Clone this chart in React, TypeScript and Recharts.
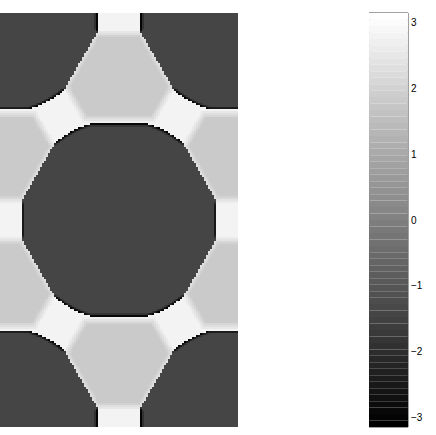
import { BarChart, Bar, Cell, XAxis, YAxis, ReferenceArea } from "recharts";

// image grid (cells) and colour bar resolution
const COLS = 119;
const ROWS = 207;
const LEVELS = 64;
const HH = Math.sqrt(3) / 2;

// dark disks sit on a hexagonal lattice (x, y in lattice constants, y down)
const diskX = [0, 1, -0.5, 0.5, 1.5, 0, 1];
const diskY = [0, 0, HH, HH, HH, 2 * HH, 2 * HH];
// flat edges of each disk: facing angle (deg) and distance from its site
const diskEdgeAngle = [0, 30, 60, 90, 120, 150, 180, 210, 240, 270, 300, 330];
const diskEdgeDist = [0.408, 0.394, 0.422, 0.403, 0.422, 0.394, 0.408, 0.394, 0.422, 0.403, 0.422, 0.394];
const diskRound = 0.42;

// light grey pockets between three disks
const pocketX = [0.5, 0, 1, 0, 1, 0.5];
const pocketY = [HH / 3, (2 * HH) / 3, (2 * HH) / 3, (4 * HH) / 3, (4 * HH) / 3, (5 * HH) / 3];
const pocketEdgeAngle = [30, 90, 150, 210, 270, 330];
const pocketToDiskV = 0.155;
const pocketToDiskD = 0.181;
const pocketToChannel = 0.202;
const pocketBlur = 0.017;

// phase levels read against the colour bar
const phaseDark = -1.4;
const phaseLight = 1.82;
const phaseWhite = 2.8;
const phaseRim = -3.1;
const rimDepth = 0.013;

const cbTicks = [-3, -2, -1, 0, 1, 2, 3];

const rad = (d: number) => (d * Math.PI) / 180;
const clamp01 = (t: number) => Math.max(0, Math.min(1, t));

const pocketApo = pocketX.map((px, i) =>
  pocketEdgeAngle.map((a) => {
    const tx = px + Math.cos(rad(a)) / Math.sqrt(3);
    const ty = pocketY[i] + Math.sin(rad(a)) / Math.sqrt(3);
    const hit = diskX.some((dx, j) => Math.hypot(dx - tx, diskY[j] - ty) < 0.05);
    if (!hit) return pocketToChannel;
    return a === 90 || a === 270 ? pocketToDiskV : pocketToDiskD;
  })
);

function phaseAt(x: number, y: number) {
  let e = Infinity;
  pocketX.forEach((px, i) => {
    let m = -Infinity;
    pocketEdgeAngle.forEach((a, k) => {
      const p = (x - px) * Math.cos(rad(a)) + (y - pocketY[i]) * Math.sin(rad(a));
      m = Math.max(m, p - pocketApo[i][k]);
    });
    e = Math.min(e, m);
  });
  const t = clamp01((e + pocketBlur) / (2 * pocketBlur));
  let val = phaseLight + t * (phaseWhite - phaseLight);

  let inside = Infinity;
  diskX.forEach((dx, j) => {
    const ox = x - dx;
    const oy = y - diskY[j];
    let m = Math.hypot(ox, oy) - diskRound;
    diskEdgeAngle.forEach((a, k) => {
      const p = ox * Math.cos(rad(a)) + oy * Math.sin(rad(a));
      m = Math.max(m, p - diskEdgeDist[k]);
    });
    inside = Math.min(inside, m);
  });
  if (inside < 0) {
    const depth = -inside;
    const tEdge = clamp01((e - depth + pocketBlur) / (2 * pocketBlur));
    const w = depth < rimDepth ? (1 - depth / rimDepth) * clamp01((tEdge - 0.6) / 0.4) : 0;
    val = phaseDark + w * (phaseRim - phaseDark);
  }
  return val;
}

const levelOf = (v: number) =>
  Math.max(0, Math.min(LEVELS - 1, Math.floor(((v + Math.PI) / (2 * Math.PI)) * LEVELS)));
const grayOf = (lvl: number) => {
  const g = Math.round((lvl * 255) / (LEVELS - 1));
  return `rgb(${g},${g},${g})`;
};

// run-length encode every image row
const rowRuns: { len: number; lvl: number }[][] = [];
for (let r = 0; r < ROWS; r++) {
  const runs: { len: number; lvl: number }[] = [];
  for (let c = 0; c < COLS; c++) {
    const lvl = levelOf(phaseAt((c + 0.5) / COLS, ((r + 0.5) / ROWS) * 2 * HH));
    const last = runs[runs.length - 1];
    if (last && last.lvl === lvl) last.len += 1;
    else runs.push({ len: 1, lvl });
  }
  rowRuns.push(runs);
}
const maxRuns = Math.max(...rowRuns.map((r) => r.length));
const imageRows = rowRuns.map((runs, r) => {
  const row: Record<string, number> = { row: r };
  for (let k = 0; k < maxRuns; k++) row[`s${k}`] = runs[k] ? runs[k].len : 0;
  return row;
});

// colour bar bands: positives stack up from 0, negatives stack down
const step = (2 * Math.PI) / LEVELS;
const bandOrder = [
  ...Array.from({ length: LEVELS / 2 }, (_, i) => LEVELS / 2 + i),
  ...Array.from({ length: LEVELS / 2 }, (_, i) => LEVELS / 2 - 1 - i),
];
const cbRow: Record<string, number | string> = { name: "cb" };
bandOrder.forEach((lvl) => {
  cbRow[`b${lvl}`] = lvl >= LEVELS / 2 ? step : -step;
});

const fmt = (v: number) => (v < 0 ? `\u2212${-v}` : `${v}`);

export default function App() {
  return (
    <div style={{ position: "absolute", left: 0, top: 0, width: 436, height: 435, background: "#fff" }}>
      <div style={{ position: "absolute", left: 0, top: 0 }}>
        <BarChart
          layout="vertical"
          width={238}
          height={435}
          data={imageRows}
          margin={{ top: 13, right: 0, bottom: 8, left: 0 }}
          barCategoryGap={0}
          barGap={0}
        >
          <XAxis type="number" domain={[0, COLS]} hide />
          <YAxis type="category" dataKey="row" hide />
          {Array.from({ length: maxRuns }, (_, k) => (
            <Bar key={k} dataKey={`s${k}`} stackId="img" isAnimationActive={false}>
              {rowRuns.map((runs, i) => (
                <Cell key={i} fill={runs[k] ? grayOf(runs[k].lvl) : "none"} />
              ))}
            </Bar>
          ))}
        </BarChart>
      </div>
      <div style={{ position: "absolute", left: 369, top: 0 }}>
        <BarChart
          width={67}
          height={435}
          data={[cbRow]}
          stackOffset="sign"
          margin={{ top: 13, right: 0, bottom: 8, left: 0 }}
          barCategoryGap={0}
          barGap={0}
        >
          <XAxis dataKey="name" hide />
          <YAxis
            yAxisId="r"
            orientation="right"
            type="number"
            domain={[-Math.PI, Math.PI]}
            allowDataOverflow
            ticks={cbTicks}
            tickFormatter={fmt}
            tickLine={false}
            axisLine={false}
            tickSize={0}
            tickMargin={3}
            width={28}
            tick={{ fontSize: 10, fill: "#000", fontFamily: "Liberation Sans, Arial, sans-serif" }}
          />
          <YAxis
            yAxisId="l"
            orientation="left"
            mirror
            type="number"
            domain={[-Math.PI, Math.PI]}
            allowDataOverflow
            ticks={cbTicks}
            tick={false}
            axisLine={false}
            tickSize={4}
            width={0}
            tickLine={{ stroke: "#555" }}
          />
          <YAxis
            yAxisId="ri"
            orientation="right"
            mirror
            type="number"
            domain={[-Math.PI, Math.PI]}
            allowDataOverflow
            ticks={cbTicks}
            tick={false}
            axisLine={false}
            tickSize={4}
            width={0}
            tickLine={{ stroke: "#555" }}
          />
          {bandOrder.map((lvl) => (
            <Bar
              key={lvl}
              yAxisId="r"
              dataKey={`b${lvl}`}
              stackId="cb"
              fill={grayOf(lvl)}
              isAnimationActive={false}
            />
          ))}
          <ReferenceArea
            yAxisId="r"
            y1={-Math.PI}
            y2={Math.PI}
            fill="none"
            stroke="#444"
            strokeWidth={1}
            ifOverflow="visible"
          />
        </BarChart>
      </div>
    </div>
  );
}
